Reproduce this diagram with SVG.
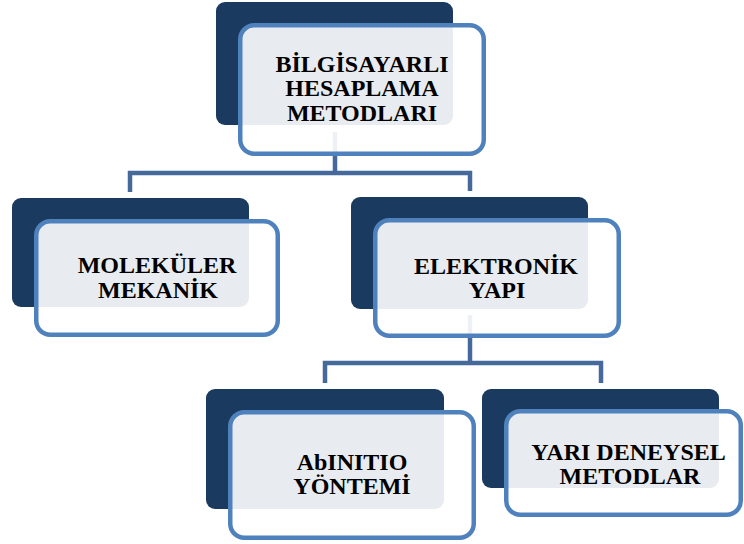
<svg xmlns="http://www.w3.org/2000/svg" width="744" height="544" viewBox="0 0 744 544">
<style>
.back{fill:#1b3a5f}
.front{fill:#ffffff;fill-opacity:0.9;stroke:#4f81bd;stroke-width:4.5}
.conn{fill:none;stroke:#46699b;stroke-width:4.5;stroke-linejoin:miter}
text{font-family:"Liberation Serif","Times New Roman",serif;font-weight:bold;font-size:24px;fill:#000;text-anchor:middle}
</style>
<rect width="744" height="544" fill="#ffffff"/>
<g id="connectors">
<path class="conn" d="M335,132 V173 M130,192 V173 H470 V191"/>
<path class="conn" d="M470,315 V363 M325,383 V363 H601 V383"/>
</g>
<g id="n1">
<rect class="back" x="216" y="2" width="237" height="123" rx="9"/>
<rect class="front" x="240.25" y="25.25" width="243.5" height="128.5" rx="14"/>
<text x="362" y="72">BİLGİSAYARLI</text>
<text x="362" y="96">HESAPLAMA</text>
<text x="362" y="120.5">METODLARI</text>
</g>
<g id="n2">
<rect class="back" x="12" y="198" width="237" height="109" rx="9"/>
<rect class="front" x="36.25" y="221.25" width="241.5" height="113.5" rx="14"/>
<text x="157" y="273">MOLEKÜLER</text>
<text x="158" y="298">MEKANİK</text>
</g>
<g id="n3">
<rect class="back" x="351" y="197" width="237" height="112" rx="9"/>
<rect class="front" x="375.25" y="220.25" width="243.5" height="115.5" rx="14"/>
<text x="496" y="274">ELEKTRONİK</text>
<text x="497" y="298">YAPI</text>
</g>
<g id="n4">
<rect class="back" x="206" y="389" width="238" height="120" rx="9"/>
<rect class="front" x="230.25" y="412.25" width="243.5" height="125.5" rx="14"/>
<text x="352" y="470">AbINITIO</text>
<text x="352" y="494">YÖNTEMİ</text>
</g>
<g id="n5">
<rect class="back" x="482" y="389" width="237" height="99" rx="9"/>
<rect class="front" x="506.25" y="411.25" width="234.5" height="103.5" rx="14"/>
<text x="628.5" y="460">YARI DENEYSEL</text>
<text x="630" y="484">METODLAR</text>
</g>
</svg>
